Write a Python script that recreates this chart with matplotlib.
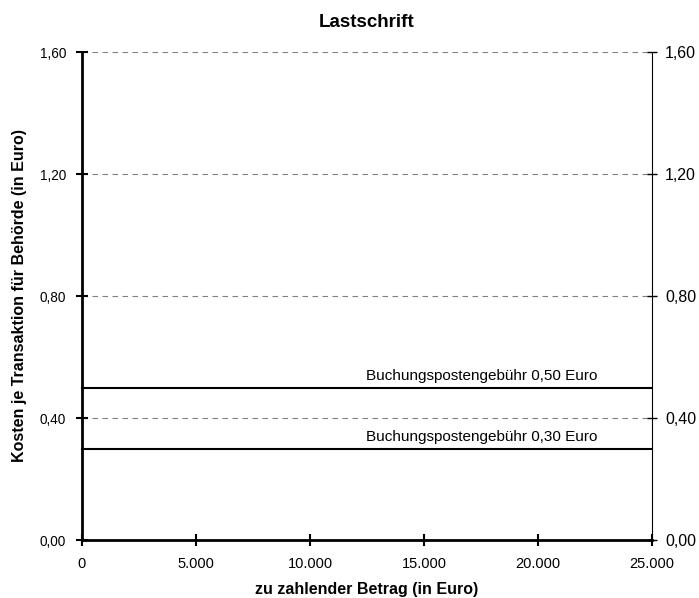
import matplotlib
matplotlib.use("Agg")
import matplotlib.pyplot as plt
from matplotlib.ticker import FuncFormatter

plt.rcParams['font.family'] = ['Liberation Sans', 'DejaVu Sans']

title = "Lastschrift"
xlabel = "zu zahlender Betrag (in Euro)"
ylabel = "Kosten je Transaktion für Behörde (in Euro)"
x_range = [0, 25000]
fee_values = [0.50, 0.30]
fee_labels = ["Buchungspostengebühr 0,50 Euro", "Buchungspostengebühr 0,30 Euro"]
x_ticks = [0, 5000, 10000, 15000, 20000, 25000]
y_ticks = [0.0, 0.4, 0.8, 1.2, 1.6]
label_x = 22600

fig = plt.figure(figsize=(6.99, 5.98), dpi=100)
ax = fig.add_axes([82/699, 58/598, 570/699, 488/598])
ax.set_xlim(0, 25000)
ax.set_ylim(0, 1.6)

for yv in y_ticks[1:]:
    ax.axhline(yv, color='#808080', lw=0.8, ls=(0, (5, 4)), zorder=1)

for v, lab in zip(fee_values, fee_labels):
    ax.plot(x_range, [v, v], color='black', lw=1.5, zorder=3, clip_on=False)
    ax.annotate(lab, xy=(label_x, v), xytext=(0, 3), textcoords='offset points',
                ha='right', va='bottom', fontsize=11)

def de_fmt_y(v, pos):
    return f"{v:.2f}".replace('.', ',')

def de_fmt_x(v, pos):
    return f"{int(v):,}".replace(',', '.')

ax.set_xticks(x_ticks)
ax.set_yticks(y_ticks)
ax.xaxis.set_major_formatter(FuncFormatter(de_fmt_x))
ax.yaxis.set_major_formatter(FuncFormatter(de_fmt_y))
ax.tick_params(axis='y', direction='inout', length=8, width=1.5, labelsize=9.8, pad=7.5)
ax.tick_params(axis='x', direction='inout', length=8, width=1.5, labelsize=10.5, pad=8.5)

for s in ['top', 'right']:
    ax.spines[s].set_visible(False)
ax.spines['left'].set_linewidth(2)
ax.spines['bottom'].set_linewidth(2)

ax2 = ax.twinx()
ax2.set_ylim(0, 1.6)
ax2.set_yticks(y_ticks)
ax2.yaxis.set_major_formatter(FuncFormatter(de_fmt_y))
ax2.tick_params(axis='y', direction='inout', length=7, width=1, labelsize=11.5, pad=6)
for s in ['top', 'left', 'bottom']:
    ax2.spines[s].set_visible(False)
ax2.spines['right'].set_linewidth(0.8)

ax.set_title(title, fontsize=13.5, fontweight='bold', pad=18)
ax.set_xlabel(xlabel, fontsize=11.5, fontweight='bold', labelpad=8)
ax.set_ylabel(ylabel, fontsize=11.5, fontweight='bold', labelpad=9)

fig.savefig("out.png", dpi=100)
